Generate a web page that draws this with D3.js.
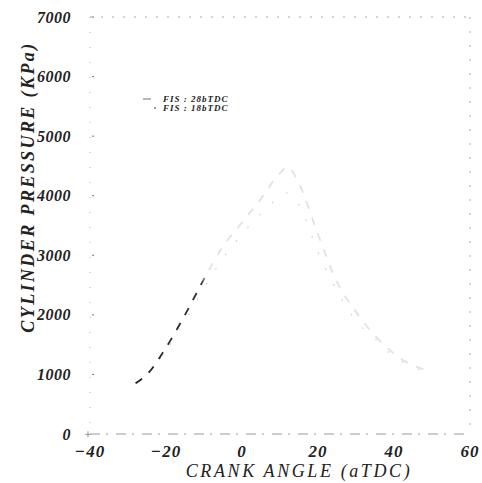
<!DOCTYPE html>
<html>
<head>
<meta charset="utf-8">
<script src="https://cdn.jsdelivr.net/npm/d3@7"></script>
<style>
  body { margin: 0; background: #fff; }
  text { font-family: "Liberation Serif", "DejaVu Serif", serif; font-style: italic; fill: #222; }
</style>
</head>
<body>
<div id="chart"></div>
<script>
// crank angle (deg aTDC) vs cylinder pressure (kPa)
const angles = [-28, -25, -20, -15, -10, -5, 0, 5, 10, 12, 15, 20, 25, 30, 35, 40, 45, 50];
const p28 = [850, 1000, 1450, 2000, 2600, 3150, 3550, 3950, 4380, 4480, 4200, 3350, 2550, 2050, 1650, 1350, 1150, 1060];
const p18 = [850, 990, 1400, 1900, 2450, 2950, 3350, 3700, 3980, 4050, 3850, 3050, 2400, 1900, 1600, 1300, 1120, 1030];
const xTicks = [-40, -20, 0, 20, 40, 60];
const yTicks = [0, 1000, 2000, 3000, 4000, 5000, 6000, 7000];
const legendLabels = ["FIS : 28bTDC", "FIS : 18bTDC"];

const width = 482, height = 483;
const x = d3.scaleLinear().domain([-40, 60]).range([90, 470]);
const y = d3.scaleLinear().domain([0, 7000]).range([434, 17]);

const svg = d3.select("#chart").append("svg")
  .attr("width", width)
  .attr("height", height);

// faded stroke like the scan: dark dashes at the start, fading out
const grad = svg.append("defs").append("linearGradient")
  .attr("id", "fade")
  .attr("gradientUnits", "userSpaceOnUse")
  .attr("x1", x(-28)).attr("x2", x(0)).attr("y1", 0).attr("y2", 0);
grad.append("stop").attr("offset", 0).attr("stop-color", "#222");
grad.append("stop").attr("offset", 0.62).attr("stop-color", "#333");
grad.append("stop").attr("offset", 0.68).attr("stop-color", "#e2e2e2");
grad.append("stop").attr("offset", 1).attr("stop-color", "#e2e2e2");

// frame (very faint, broken)
svg.append("line").attr("x1", x(-40)).attr("x2", x(60)).attr("y1", y(7000)).attr("y2", y(7000))
  .attr("stroke", "#aaa").attr("stroke-dasharray", "2,9");
svg.append("line").attr("x1", x(60)).attr("x2", x(60)).attr("y1", y(7000)).attr("y2", y(0))
  .attr("stroke", "#aaa").attr("stroke-dasharray", "2,12");
svg.append("line").attr("x1", x(-40)).attr("x2", x(60)).attr("y1", y(0)).attr("y2", y(0))
  .attr("stroke", "#999").attr("stroke-dasharray", "10,6,2,8");
svg.append("line").attr("x1", x(-40)).attr("x2", x(-40)).attr("y1", y(7000)).attr("y2", y(0))
  .attr("stroke", "#bbb").attr("stroke-dasharray", "1,14");

// y ticks
svg.selectAll(".ytick").data(yTicks).enter().append("text")
  .attr("x", 71).attr("y", d => y(d)).attr("dy", "0.35em")
  .attr("text-anchor", "end").style("font-size", "16px").style("font-weight", "bold")
  .style("letter-spacing", "0.5px")
  .text(d => d);
svg.selectAll(".ydot").data(yTicks.slice(1)).enter().append("line")
  .attr("x1", x(-40) + 2).attr("x2", x(-40) + 4).attr("y1", d => y(d)).attr("y2", d => y(d))
  .attr("stroke", "#777");
svg.append("text").attr("x", 88).attr("y", y(0)).attr("dy", "0.35em").attr("text-anchor", "middle")
  .style("font-size", "13px").style("font-style", "normal").style("fill", "#666").text("+");

// x ticks
svg.selectAll(".xtick").data(xTicks).enter().append("text")
  .attr("x", d => x(d)).attr("y", 451).attr("dy", "0.35em")
  .attr("text-anchor", "middle").style("font-size", "17px").style("font-weight", "bold")
  .style("letter-spacing", "1px")
  .text(d => d < 0 ? "\u2212" + Math.abs(d) : d);

// axis titles
svg.append("text").attr("x", 299).attr("y", 477)
  .attr("text-anchor", "middle").style("font-size", "18px").style("letter-spacing", "2.6px")
  .text("CRANK ANGLE (aTDC)");
svg.append("text").attr("transform", "translate(34,187) rotate(-90)")
  .attr("text-anchor", "middle").style("font-size", "18px").style("font-weight", "bold")
  .style("letter-spacing", "2.4px")
  .text("CYLINDER PRESSURE (KPa)");

const line = d3.line().x((d, i) => x(angles[i])).y(d => y(d)).curve(d3.curveMonotoneX);

svg.append("path").attr("d", line(p18))
  .attr("fill", "none").attr("stroke", "#ccc").attr("stroke-width", 1.2)
  .attr("stroke-dasharray", "1.5,16");
svg.append("path").attr("d", line(p28))
  .attr("fill", "none").attr("stroke", "url(#fade)").attr("stroke-width", 1.8)
  .attr("stroke-dasharray", "8,9");

// legend
const leg = svg.append("g");
leg.append("line").attr("x1", 143).attr("x2", 151).attr("y1", 99).attr("y2", 99)
  .attr("stroke", "#888").attr("stroke-width", 1.2);
leg.append("circle").attr("cx", 155).attr("cy", 108).attr("r", 0.9).attr("fill", "#777");
leg.selectAll(".lt").data(legendLabels).enter().append("text")
  .attr("x", 163).attr("y", (d, i) => 99 + i * 9).attr("dy", "0.35em")
  .style("font-size", "9px").style("font-weight", "bold").style("letter-spacing", "1px")
  .text(d => d);
</script>
</body>
</html>
